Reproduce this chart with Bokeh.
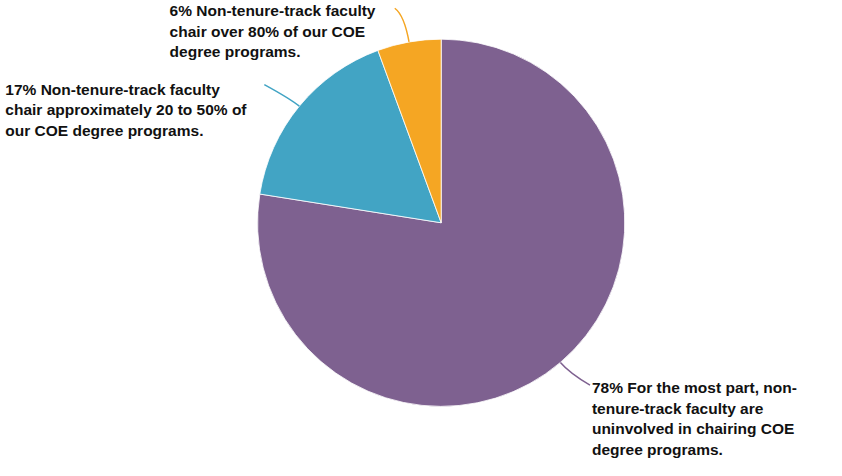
import math
from bokeh.plotting import figure
from bokeh.models import Range1d, ColumnDataSource
from bokeh.embed import file_html
from bokeh.resources import INLINE
from bokeh.core.properties import value

# ---- data ----
categories = [
    "For the most part, non-tenure-track faculty are uninvolved in chairing COE degree programs.",
    "Non-tenure-track faculty chair approximately 20 to 50% of our COE degree programs.",
    "Non-tenure-track faculty chair over 80% of our COE degree programs.",
]
shares = [77.5, 16.9, 5.6]
pct_labels = ["78%", "17%", "6%"]
label_lines = [
    ["For the most part, non-", "tenure-track faculty are", "uninvolved in chairing COE", "degree programs."],
    ["Non-tenure-track faculty", "chair approximately 20 to 50% of", "our COE degree programs."],
    ["Non-tenure-track faculty", "chair over 80% of our COE", "degree programs."],
]
colors = ["#7E6190", "#42A4C4", "#F5A623"]

# ---- layout: design units of an 842x476 sheet, scaled to fit the canvas ----
W, H = 826, 460
S = H / 476.0
def Y(py):
    return 476 - py

p = figure(width=W, height=H, x_range=Range1d(0, W / S), y_range=Range1d(0, 476),
           output_backend="svg", toolbar_location=None, min_border=0)
p.axis.visible = False
p.grid.visible = False
p.outline_line_color = None
p.background_fill_color = "white"
p.border_fill_color = "white"

cx, cy, r = 456, Y(230), 190
total = sum(shares)
starts, ends, mids = [], [], []
a = math.pi / 2
for s in shares:
    sweep = 2 * math.pi * s / total
    starts.append(a)
    ends.append(a - sweep)
    mids.append(a - sweep / 2)
    a -= sweep

src = ColumnDataSource(dict(start=starts, end=ends, color=colors, cat=categories))
p.wedge(x=cx, y=cy, radius=r, start_angle="start", end_angle="end", direction="clock",
        fill_color="color", line_color="white", line_width=0.8, source=src)

# leader lines: from slice mid-angle on the rim to the label
label_ends = [(610, Y(398)), (273, Y(87)), (408, Y(8))]
ctrl_len = [14, 12, 28]
for m, (ex, ey), k, col in zip(mids, label_ends, ctrl_len, colors):
    sx, sy = cx + r * math.cos(m), cy + r * math.sin(m)
    qx, qy = cx + (r + k) * math.cos(m), cy + (r + k) * math.sin(m)
    p.quadratic(x0=[sx], y0=[sy], x1=[ex], y1=[ey], cx=[qx], cy=[qy],
                line_color=col, line_width=1.5)

# labels
label_pos = [(612, Y(392)), (5, Y(83)), (175, Y(2))]
texts = [pl + " " + "\n".join(lines) for pl, lines in zip(pct_labels, label_lines)]
p.text(x=[q[0] for q in label_pos], y=[q[1] for q in label_pos], text=texts,
       text_font=value("Liberation Sans"), text_font_style="bold",
       text_font_size="%.1fpx" % (16 * S),
       text_baseline="top", text_align="left", text_line_height=1.2, text_color="#111111")

open("out.html", "w").write(file_html(p, INLINE))
